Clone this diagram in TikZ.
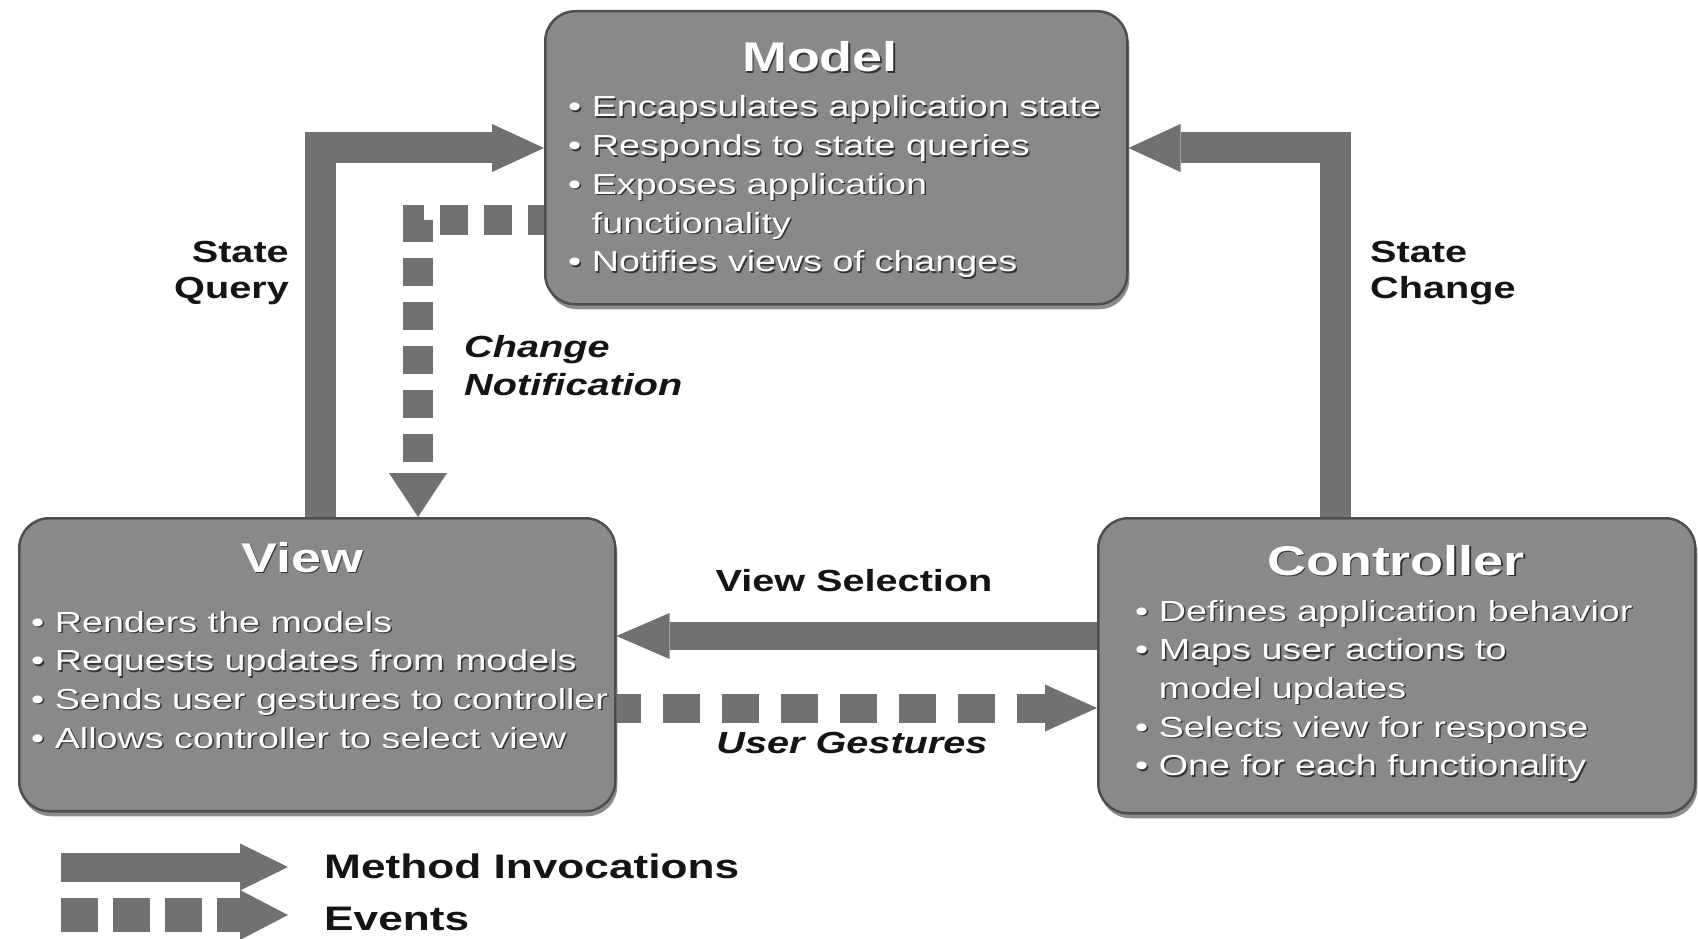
\documentclass[tikz,border=0pt]{standalone}
\usepackage{fontspec}
\setmainfont{Liberation Sans}[FakeStretch=1.3]
\usetikzlibrary{arrows.meta,shadows}
\definecolor{boxfill}{HTML}{898989}
\definecolor{boxedge}{HTML}{4E4E4E}
\definecolor{arrowc}{HTML}{717171}
\definecolor{txtsh}{HTML}{333333}
\definecolor{labelc}{HTML}{141414}
\newcommand{\sh}[1]{\leavevmode\rlap{\kern1.5pt\raisebox{-1.5pt}{\color{txtsh}#1}}#1}
\begin{document}
\begin{tikzpicture}[x=1pt,y=-1pt,
  mvcbox/.style={rounded corners=30pt, fill=boxfill, draw=boxedge, line width=2.5pt, inner sep=0pt,
    drop shadow={shadow xshift=2pt, shadow yshift=-5pt, fill=black, opacity=0.45}},
  boxtitle/.style={text=white, font=\fontsize{41.5}{48}\selectfont\bfseries, inner sep=0pt, anchor=base},
  bullets/.style={text=white, font=\fontsize{29}{38.7}\selectfont, inner sep=0pt, anchor=base west},
  lbltext/.style={text=labelc, font=\fontsize{30.5}{36}\selectfont\bfseries, inner sep=0pt},
  lblit/.style={text=labelc, font=\fontsize{30.5}{38}\selectfont\bfseries\itshape, inner sep=0pt},
  legendtext/.style={text=labelc, font=\fontsize{34}{40}\selectfont\bfseries, inner sep=0pt, anchor=base west},
  solidarrow/.style={draw=arrowc, line width=30pt, line join=miter,
    -{Triangle[length=52pt,width=48pt,line width=0pt]}},
]
\useasboundingbox (0,0) rectangle (1698,939);
\fill[white] (0,0) rectangle (1698,939);

% boxes
\node[mvcbox, minimum width=582pt, minimum height=293pt, anchor=north west] (model) at (544,10) {};
\node[mvcbox, minimum width=596pt, minimum height=293pt, anchor=north west] (view) at (18,517) {};
\node[mvcbox, minimum width=597pt, minimum height=295pt, anchor=north west] (controller) at (1097,517) {};

% helper coordinates
\coordinate (sqx) at (320,0);
\coordinate (scx) at (1335,0);
\coordinate (army) at (0,148);
\coordinate (cnx) at (418,0);
\coordinate (cny) at (0,220);
\coordinate (vsy) at (0,636);
\coordinate (ugy) at (0,708);
\coordinate (m1) at (61,867);
\coordinate (m2) at (288,867);
\coordinate (e1) at (61,915);
\coordinate (e2) at (288,915);

% method invocations
\draw[solidarrow, line width=31pt] (view.north -| sqx) |- (model.west |- army);
\draw[solidarrow, line width=31pt] (controller.north -| scx) |- (model.east |- army);
\draw[solidarrow, line width=28pt, -{Triangle[length=53pt,width=46pt,line width=0pt]}]
  (controller.west |- vsy) -- (view.east |- vsy);

% events
\draw[draw=arrowc, line width=30pt, line join=miter, dash pattern=on 28pt off 16pt, dash phase=12pt,
  -{Triangle[length=44pt,width=58pt,line width=0pt]}]
  (model.west |- cny) -| (view.north -| cnx);
\draw[draw=arrowc, line width=29pt, dash pattern=on 37pt off 22pt, dash phase=13pt,
  -{Triangle[length=52pt,width=47pt,line width=0pt]}]
  (view.east |- ugy) -- (controller.west |- ugy);

% legend arrows
\draw[solidarrow, line width=29pt, -{Triangle[length=48pt,width=47pt,line width=0pt]}] (m1) -- (m2);
\draw[draw=arrowc, line width=34pt, dash pattern=on 37pt off 15pt,
  -{Triangle[length=48pt,width=50pt,line width=0pt]}] (e1) -- (e2);

% box texts
\node[boxtitle] (modeltitle) at (820,72) {\sh{Model}};
\node[bullets] (modeltext) at (568,117) {\begin{tabular}[t]{@{}l@{}}
\sh{•\ Encapsulates application state}\\
\sh{•\ Responds to state queries}\\
\sh{•\ Exposes application}\\
\sh{\phantom{•\ }functionality}\\
\sh{•\ Notifies views of changes}
\end{tabular}};

\node[boxtitle] (viewtitle) at (302,572) {\sh{View}};
\node[bullets] (viewtext) at (31,632) {\begin{tabular}[t]{@{}l@{}}
\sh{•\ Renders the models}\\
\sh{•\ Requests updates from models}\\
\sh{•\ Sends user gestures to controller}\\
\sh{•\ Allows controller to select view}
\end{tabular}};

\node[boxtitle] (controllertitle) at (1396,575) {\sh{Controller}};
\node[bullets] (controllertext) at (1135,621) {\begin{tabular}[t]{@{}l@{}}
\sh{•\ Defines application behavior}\\
\sh{•\ Maps user actions to}\\
\sh{\phantom{•\ }model updates}\\
\sh{•\ Selects view for response}\\
\sh{•\ One for each functionality}
\end{tabular}};

% connector labels
\node[lbltext, anchor=base east] (sqlabel) at (289,262) {\begin{tabular}[t]{@{}r@{}}State\\Query\end{tabular}};
\node[lbltext, anchor=base west] (sclabel) at (1370,262) {\begin{tabular}[t]{@{}l@{}}State\\Change\end{tabular}};
\node[lblit, anchor=base west] (cnlabel) at (464,357) {\begin{tabular}[t]{@{}l@{}}Change\\Notification\end{tabular}};
\node[lbltext, anchor=base] (vslabel) at (854,591) {View Selection};
\node[lblit, anchor=base] (uglabel) at (852,753) {User Gestures};

% legend labels
\node[legendtext] (mlegend) at (324,878) {Method Invocations};
\node[legendtext] (elegend) at (324,930) {Events};
\end{tikzpicture}
\end{document}
